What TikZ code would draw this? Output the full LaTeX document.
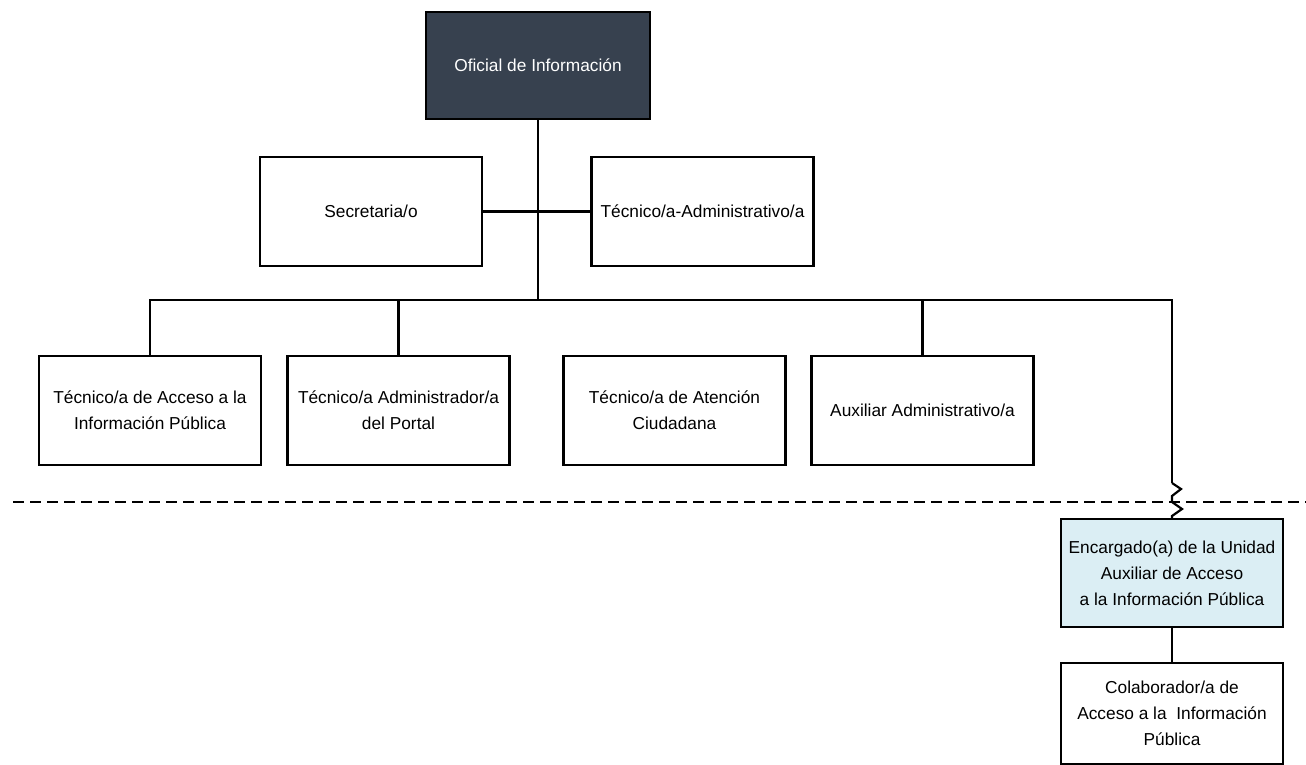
\documentclass[tikz,border=0pt]{standalone}
\usepackage{fontspec}
\setmainfont{Liberation Sans}
\usepackage{xcolor}
\usetikzlibrary{positioning,calc}

\definecolor{oficialfill}{RGB}{55,65,79}
\definecolor{unidadfill}{RGB}{219,238,244}

\begin{document}
\begin{tikzpicture}[x=1pt,y=-1pt,
    cargo/.style={draw, line width=2.2pt, minimum width=222pt, minimum height=109pt,
        inner sep=2pt, align=center, font=\fontsize{17.3}{26}\selectfont},
    enlace/.style={line width=2.2pt}]
    \useasboundingbox (0,0) rectangle (1306,765);

    % Oficial de informacion
    \node[cargo, fill=oficialfill, text=white, minimum width=224pt, minimum height=107pt]
        (oficial) at (538,65.5) {Oficial de Información};

    % Apoyo directo
    \node[cargo] (secre) at (371,211.5) {Secretaria/o};
    \node[cargo] (tecadm) at (702.5,211.5) {Técnico/a-Administrativo/a};

    % Tecnicos
    \foreach \x/\name/\label in {150/acceso/{Técnico/a de Acceso a la\\Información Pública},
        398.5/portal/{Técnico/a Administrador/a\\del Portal},
        674.5/atencion/{Técnico/a de Atención\\Ciudadana},
        922.5/auxiliar/{Auxiliar Administrativo/a}} {
        \node[cargo] (\name) at (\x,410.5) {\label};
    }

    % Unidad auxiliar
    \node[cargo, fill=unidadfill, minimum height=108pt] (encargado) at (1172,573)
        {Encargado(a) de la Unidad\\Auxiliar de Acceso\\a la Información Pública};
    \node[cargo, minimum height=101pt] (colaborador) at (1172,713.5)
        {Colaborador/a de\\Acceso a la\ \ Información\\Pública};

    % Lineas de mando
    \coordinate (bus) at (538,300);
    \coordinate (corte) at (1172,483);
    \draw[enlace] (oficial.south) -- (bus);
    \draw[enlace] (secre.east) -- (tecadm.west);
    \draw[enlace] (acceso.north) |- (bus) -| (corte);
    \draw[enlace] (portal.north) -- (portal.north |- bus);
    \draw[enlace] (auxiliar.north) -- (auxiliar.north |- bus);
    \draw[enlace] (corte) -- ++(9,6) -- ++(-9,7) -- ++(0,6) -- ++(10,7) -- ++(-10,7)
        -- (encargado.north);
    \draw[enlace] (encargado.south) -- (colaborador.north);

    % Limite
    \coordinate (limiteizq) at (13,502);
    \coordinate (limiteder) at (1306,502);
    \draw[line width=2.2pt, dash pattern=on 11pt off 6pt] (limiteizq) -- (limiteder);

\end{tikzpicture}
\end{document}
